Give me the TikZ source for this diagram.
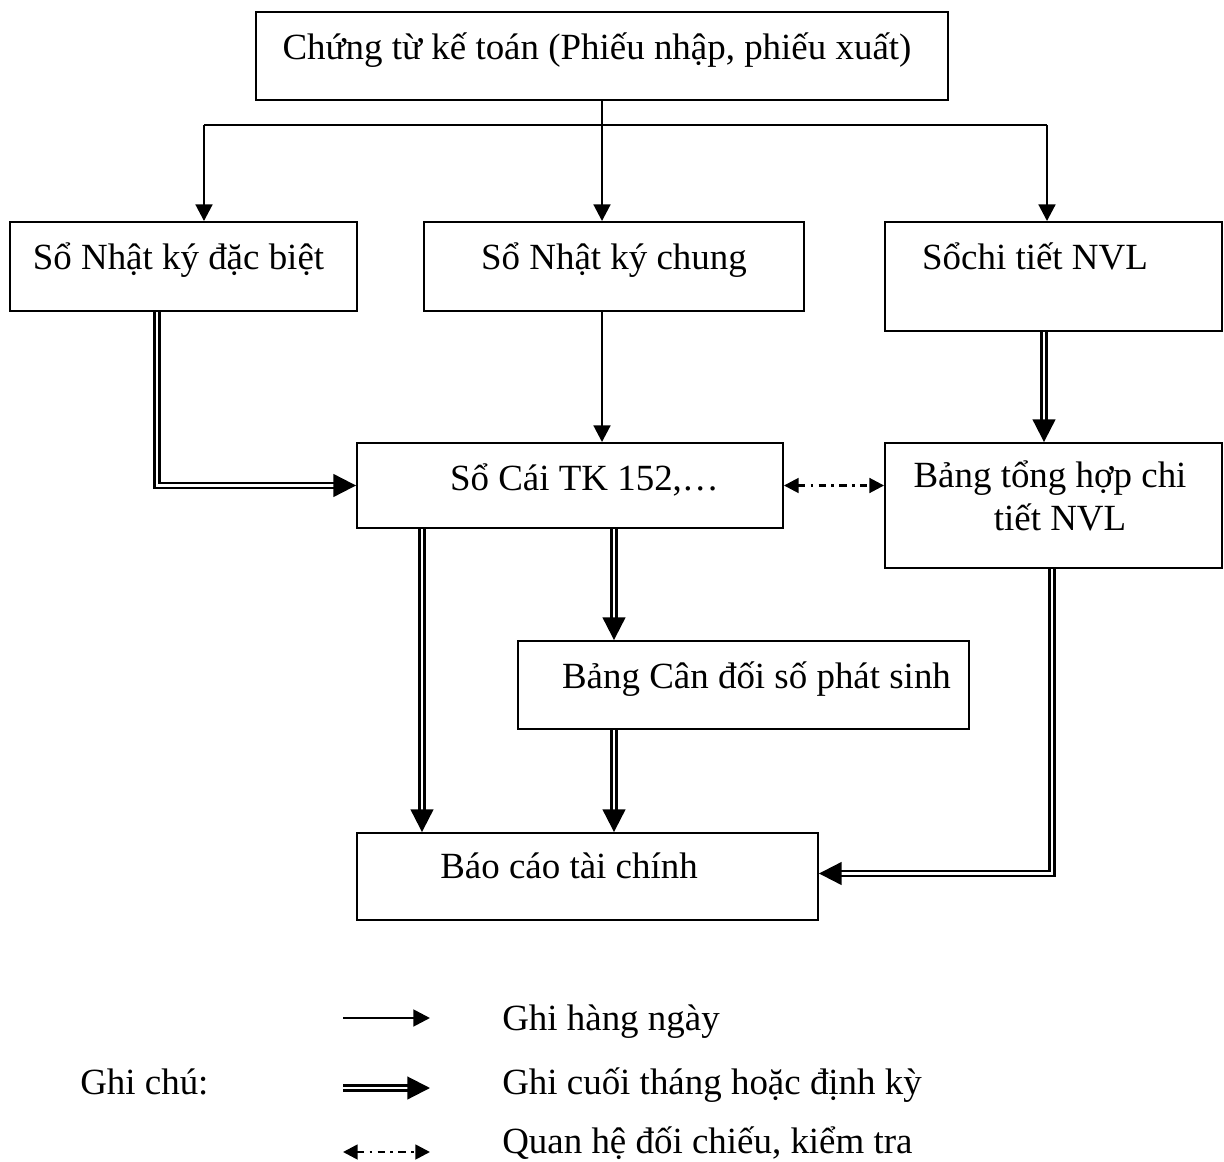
\documentclass[tikz,border=0pt]{standalone}
\usepackage{fontspec}
\setmainfont{Liberation Serif}
\usetikzlibrary{arrows.meta}
\begin{document}
\begin{tikzpicture}[x=0.75pt,y=-0.75pt,
  box/.style={draw,line width=1.4pt,rectangle,inner sep=0pt},
  txt/.style={font=\fontsize{27.7}{33}\selectfont,inner sep=0pt,anchor=base},
  ltxt/.style={txt,anchor=base west},
  arr/.style={line width=2.1pt,-{Triangle[length=12.5pt,width=12.5pt]}},
  dbl/.style={line width=1.6pt,double,double distance=2.2pt,-{Triangle[length=17pt,width=17pt]}},
  chk/.style={line width=2pt,dash pattern=on 5.5pt off 4pt on 2pt off 4pt,
    {Triangle[length=11pt,width=11pt]}-{Triangle[length=11pt,width=11pt]}}]
\useasboundingbox (0,0) rectangle (1224,1162);

% boxes
\node[box,minimum width=692*0.75pt,minimum height=88*0.75pt] (ct) at (602,56) {};
\node[box,minimum width=347*0.75pt,minimum height=89*0.75pt] (nkdb) at (183.5,266.5) {};
\node[box,minimum width=380*0.75pt,minimum height=89*0.75pt] (nkc) at (614,266.5) {};
\node[box,minimum width=337*0.75pt,minimum height=109*0.75pt] (sct) at (1053.5,276.5) {};
\node[box,minimum width=426*0.75pt,minimum height=85*0.75pt] (sc) at (570,485.5) {};
\node[box,minimum width=337*0.75pt,minimum height=125*0.75pt] (bth) at (1053.5,505.5) {};
\node[box,minimum width=451*0.75pt,minimum height=88*0.75pt] (bcd) at (743.5,685) {};
\node[box,minimum width=461*0.75pt,minimum height=87*0.75pt] (bctc) at (587.5,876.5) {};

% box texts
\node[txt] (tct) at (597,60) {Chứng từ kế toán (Phiếu nhập, phiếu xuất)};
\node[txt] (tnkdb) at (178.5,270) {Sổ Nhật ký đặc biệt};
\node[txt] (tnkc) at (614,270) {Sổ Nhật ký chung};
\node[txt] (tsct) at (1035,270) {Sổchi tiết NVL};
\node[txt] (tsc) at (584.5,490) {Sổ Cái TK 152,…};
\node[txt] (tbth1) at (1050,487) {Bảng tổng hợp chi};
\node[txt] (tbth2) at (1060,530) {tiết NVL};
\node[txt] (tbcd) at (756.5,688) {Bảng Cân đối số phát sinh};
\node[txt] (tbctc) at (569,878) {Báo cáo tài chính};

% column references
\coordinate (xl) at (204,125);
\coordinate (xr) at (1047,125);
\coordinate (x157) at (157,0);
\coordinate (x422) at (422,0);
\coordinate (x614) at (614,0);
\coordinate (x1044) at (1044,0);
\coordinate (x1052) at (1052,0);

% daily entries
\draw[line width=2.1pt] (ct.south) -- (ct.south |- xl);
\draw[line width=2.1pt] (xl) -- (xr);
\draw[arr] (xl) -- (xl |- nkdb.north);
\draw[arr] (ct.south |- xl) -- (ct.south |- nkc.north);
\draw[arr] (xr) -- (xr |- sct.north);
\draw[arr] (ct.south |- nkc.south) -- (ct.south |- sc.north);

% periodic entries
\draw[dbl] (x157 |- nkdb.south) |- (sc.west);
\draw[dbl] (x1044 |- sct.south) -- (x1044 |- bth.north);
\draw[dbl] (x422 |- sc.south) -- (x422 |- bctc.north);
\draw[dbl] (x614 |- sc.south) -- (x614 |- bcd.north);
\draw[dbl] (x614 |- bcd.south) -- (x614 |- bctc.north);
\draw[dbl] (x1052 |- bth.south) |- ([yshift=3*0.75pt]bctc.east);

% cross-check
\draw[chk] (sc.east) -- (sc.east -| bth.west);

% legend
\coordinate (la1) at (343,1018); \coordinate (lb1) at (430,1018);
\coordinate (la2) at (343,1088); \coordinate (lb2) at (430,1088);
\coordinate (la3) at (343,1152); \coordinate (lb3) at (430,1152);
\draw[arr] (la1) -- (lb1);
\draw[dbl] (la2) -- (lb2);
\draw[chk] (la3) -- (lb3);
\node[ltxt] (g1) at (502,1030) {Ghi hàng ngày};
\node[ltxt] (gc) at (80,1094) {Ghi chú:};
\node[ltxt] (g2) at (502,1094) {Ghi cuối tháng hoặc định kỳ};
\node[ltxt] (g3) at (502,1153) {Quan hệ đối chiếu, kiểm tra};
\end{tikzpicture}
\end{document}
